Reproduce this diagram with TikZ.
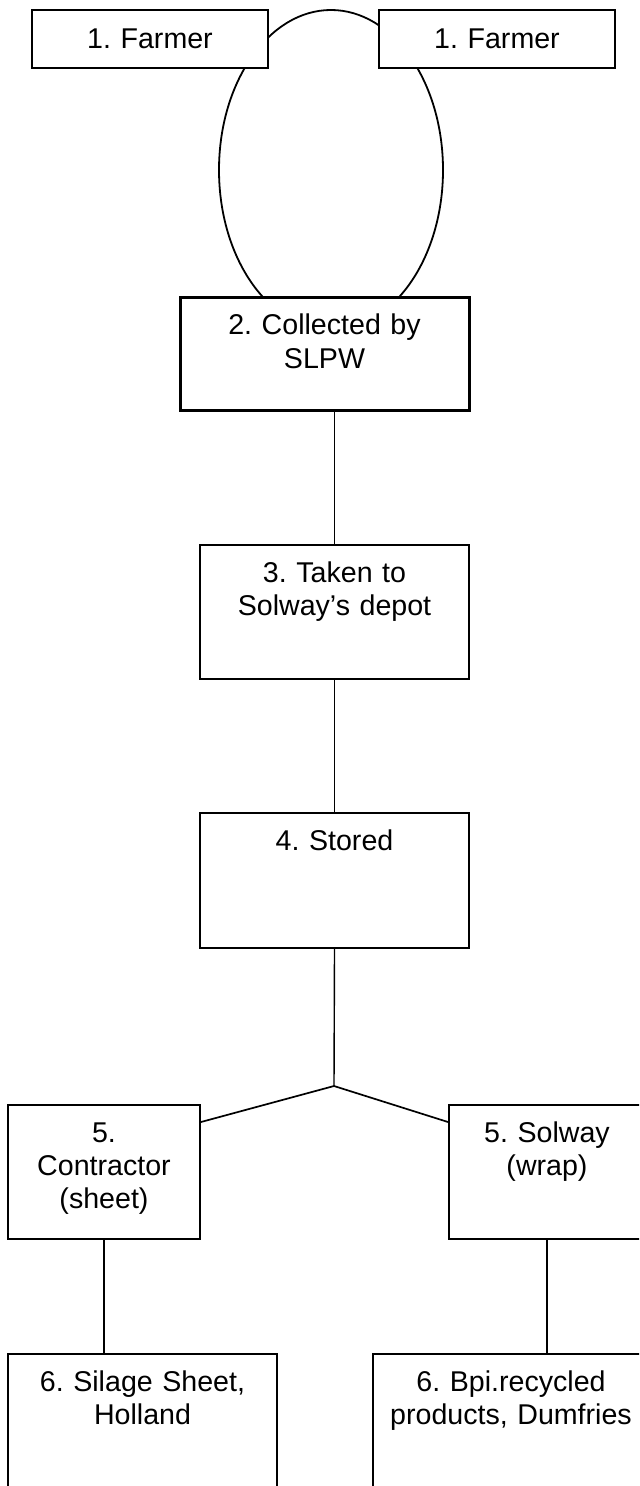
\documentclass[tikz,border=0pt]{standalone}
\usepackage{fontspec}
\setmainfont{Liberation Sans}
\usepackage{tikz}
\frenchspacing
\newcommand{\boxfont}{\fontsize{14.3pt}{16.6pt}\selectfont}

\begin{document}
\begin{tikzpicture}[
    x=0.5pt, y=-0.5pt,
    farmerbox/.style={rectangle, draw=black, fill=white, line width=1pt,
                 inner sep=0pt, text width=118pt, minimum height=29pt,
                 align=center, font=\boxfont},
    stagebox/.style={rectangle, draw=black, fill=white, line width=1pt,
                 inner sep=0pt, align=center, font=\boxfont, text height=18.5pt},
    boxsize/.style 2 args={text width=#1, text depth=#2-18.5pt},
    link/.style={line width=0.7pt}
]
    \path[use as bounding box, clip] (0,0) rectangle (639,1486);

    % the loop between the two farms and the collection
    \draw[line width=0.9pt] (331,170) ellipse [x radius=56pt, y radius=80pt];

    \node[farmerbox] (farmA) at (150,39) {1. Farmer};
    \node[farmerbox] (farmB) at (497,39) {1. Farmer};

    \node[stagebox, boxsize={144.5pt}{56.5pt}, line width=1.5pt] (collect) at (324.5,354.5) {2. Collected by\\SLPW};
    \node[stagebox, boxsize={134.5pt}{67pt}] (depot) at (334.5,612) {3. Taken to\\Solway's depot};
    \node[stagebox, boxsize={134.5pt}{67.5pt}] (store) at (334.5,880.5) {4. Stored};
    \node[stagebox, boxsize={96pt}{67pt}] (contr) at (104,1172) {5.\\Contractor\\(sheet)};
    \node[stagebox, boxsize={98pt}{67pt}] (solway) at (547,1172) {5. Solway\\(wrap)};
    \node[stagebox, boxsize={134.5pt}{67.5pt}] (holland) at (142.5,1421.5) {6. Silage Sheet,\\Holland};
    \node[stagebox, boxsize={138pt}{67.5pt}] (dumfries) at (511,1421.5) {6. Bpi.recycled\\products, Dumfries};

    \coordinate (fork) at (334,1086);

    \draw[link] (collect.south -| depot.north) -- (depot.north);
    \draw[link] (depot) -- (store);
    \draw[link] (store.south) -- (fork);
    \draw[link, line width=0.85pt] (fork) -- ([yshift=-9pt]contr.north east);
    \draw[link, line width=0.85pt] (fork) -- ([yshift=-9pt]solway.north west);
    \draw[link] (contr.south) -- (contr.south |- holland.north);
    \draw[link] (solway.south) -- (solway.south |- dumfries.north);
\end{tikzpicture}
\end{document}
